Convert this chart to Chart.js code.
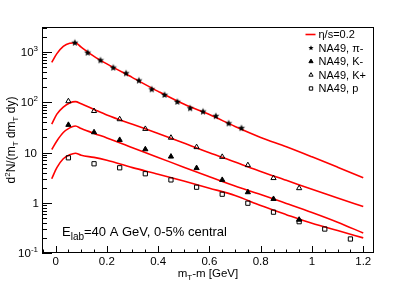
<!DOCTYPE html>
<html>
<head>
<meta charset="utf-8">
<title>NA49 spectra</title>
<style>
  html, body { margin: 0; padding: 0; background: #fff; }
</style>
</head>
<body>
<canvas id="chart" width="415" height="281"></canvas>
<script src="https://cdn.jsdelivr.net/npm/chart.js"></script>
<script>
// model curves (eta/s = 0.2)
const curveX = [-0.015, 0.005, 0.03, 0.055, 0.077, 0.1, 0.15, 0.2, 0.3, 0.4, 0.5, 0.6, 0.7, 0.8, 0.9, 1.0, 1.1, 1.2];
const piCurve = [624, 930, 1300, 1500, 1530, 1250, 820, 580, 310, 165, 92, 57, 33, 20, 13, 8.2, 5.1, 3.15];
const kplusCurve = [36.6, 58, 80, 97, 103, 93, 72, 56, 36.5, 24, 15.5, 9.9, 6.5, 4.2, 2.8, 1.85, 1.25, 0.84];
const kminusCurve = [11.5, 17, 25, 31, 33.8, 30, 24, 19.5, 12.4, 8.0, 5.1, 3.3, 2.15, 1.46, 0.97, 0.64, 0.41, 0.25];
const protonCurve = [3.0, 5.0, 7.5, 9.0, 9.7, 8.8, 8.0, 7.0, 5.0, 3.7, 2.7, 1.95, 1.4, 0.88, 0.58, 0.39, 0.28, 0.2];

// NA49 data
const piX = [0.075, 0.125, 0.175, 0.225, 0.275, 0.325, 0.375, 0.425, 0.475, 0.525, 0.575, 0.625, 0.675, 0.725];
const piY = [1530, 970, 683, 487, 377, 270, 181, 140, 102, 76, 65, 53, 38, 30.5];
const kaonX = [0.05, 0.15, 0.25, 0.35, 0.45, 0.55, 0.65, 0.75, 0.85, 0.95];
const kplusY = [105, 67, 46, 29.5, 19.7, 12.8, 8.2, 5.6, 3.1, 1.95];
const kminusY = [35.5, 25.3, 17.8, 11.6, 8.3, 4.9, 2.85, 1.62, 1.19, 0.46];
const protonX = [0.05, 0.15, 0.25, 0.35, 0.45, 0.55, 0.65, 0.75, 0.85, 0.95, 1.05, 1.15];
const protonY = [7.85, 5.97, 4.97, 3.78, 2.85, 2.04, 1.48, 0.98, 0.65, 0.42, 0.30, 0.19];

// axes
const xTicks = [0, 0.2, 0.4, 0.6, 0.8, 1, 1.2];
const xTickLabels = ['0', '0.2', '0.4', '0.6', '0.8', '1', '1.2'];
const yTicks = [0.1, 1, 10, 100, 1000];
const yTickLabels = [['10', '-1'], ['1', ''], ['10', ''], ['10', '2'], ['10', '3']];
const legendLabels = ['η/s=0.2', 'NA49, π-', 'NA49, K-', 'NA49, K+', 'NA49, p'];

const FONT = '"Liberation Sans", Arial, Helvetica, sans-serif';
Chart.defaults.font.family = FONT;

const pts = (xs, ys) => xs.map((x, i) => ({ x: x, y: ys[i] }));

function makeStar(r) {
  const c = document.createElement('canvas');
  const s = Math.ceil(r * 2) + 2;
  c.width = s; c.height = s;
  const g = c.getContext('2d');
  g.fillStyle = '#000';
  g.beginPath();
  for (let i = 0; i < 10; i++) {
    const rr = i % 2 ? r * 0.45 : r;
    const ang = -Math.PI / 2 + i * Math.PI / 5;
    g.lineTo(s / 2 + rr * Math.cos(ang), s / 2 + rr * Math.sin(ang));
  }
  g.closePath();
  g.fill();
  return c;
}
const starBig = makeStar(3.7);
const starSmall = makeStar(2.7);

// text with sub/superscripts: pieces = [text, kind]
function richWidth(ctx, pieces, size, small) {
  let w = 0;
  pieces.forEach(([t, k]) => {
    ctx.font = (k ? small : size) + 'px ' + FONT;
    w += ctx.measureText(t).width;
  });
  return w;
}
function drawRich(ctx, pieces, x, y, size, small, align) {
  const w = richWidth(ctx, pieces, size, small);
  let cx = align === 'center' ? x - w / 2 : align === 'right' ? x - w : x;
  ctx.textAlign = 'left';
  ctx.textBaseline = 'alphabetic';
  pieces.forEach(([t, k]) => {
    ctx.font = (k ? small : size) + 'px ' + FONT;
    const dy = k === 'sup' ? -size * 0.42 : k === 'sub' ? size * 0.28 : 0;
    ctx.fillText(t, cx, y + dy);
    cx += ctx.measureText(t).width;
  });
}

const frameAxes = {
  id: 'frameAxes',
  afterDatasetsDraw(chart) {
    const ctx = chart.ctx;
    const a = chart.chartArea;
    const xs = chart.scales.x, ys = chart.scales.y;
    ctx.save();
    ctx.strokeStyle = '#000';
    ctx.lineWidth = 1;
    ctx.strokeRect(a.left + 0.5, a.top + 0.5, a.right - a.left - 1, a.bottom - a.top - 1);

    // x ticks (inward)
    ctx.beginPath();
    for (let i = -1; i <= 25; i++) {
      const v = i * 0.05;
      if (v < xs.min || v > xs.max) continue;
      const px = Math.round(xs.getPixelForValue(v)) + 0.5;
      const len = i % 4 === 0 ? 7 : 3.5;
      ctx.moveTo(px, a.bottom);
      ctx.lineTo(px, a.bottom - len);
    }
    // y ticks (inward, log)
    for (let d = -1; d <= 3; d++) {
      for (let m = 1; m <= 9; m++) {
        const v = m * Math.pow(10, d);
        if (v < ys.min || v > ys.max) continue;
        const py = Math.round(ys.getPixelForValue(v)) + 0.5;
        const len = m === 1 ? 10 : 5;
        ctx.moveTo(a.left, py);
        ctx.lineTo(a.left + len, py);
      }
    }
    ctx.stroke();

    ctx.fillStyle = '#000';
    // x tick labels
    ctx.font = '11.5px ' + FONT;
    ctx.textAlign = 'center';
    ctx.textBaseline = 'alphabetic';
    xTicks.forEach((v, i) => {
      ctx.fillText(xTickLabels[i], xs.getPixelForValue(v), 265);
    });
    // y tick labels
    yTicks.forEach((v, i) => {
      const [base, exp] = yTickLabels[i];
      const py = ys.getPixelForValue(v) + 4;
      if (exp) drawRich(ctx, [[base, ''], [exp, 'sup']], 38, py, 11.5, 8, 'right');
      else drawRich(ctx, [[base, '']], base === '1' ? 39 : 37, py, 11.5, 8, 'right');
    });

    // axis titles
    drawRich(ctx, [['m', ''], ['T', 'sub'], ['-m [GeV]', '']], (a.left + a.right) / 2, 277, 11.5, 8, 'center');
    ctx.save();
    ctx.translate(15, (a.top + a.bottom) / 2);
    ctx.rotate(-Math.PI / 2);
    drawRich(ctx, [['d', ''], ['2', 'sup'], ['N/(m', ''], ['T', 'sub'], [' dm', ''], ['T', 'sub'], [' dy)', '']], 0, 0, 12, 8, 'center');
    ctx.restore();

    // annotation
    drawRich(ctx, [['E', ''], ['lab', 'sub'], ['=40 A GeV, 0-5% central', '']], 62, 236, 13, 10, 'left');

    // legend
    const rows = [34.5, 48, 61.5, 75, 88.5];
    const ds = chart.data.datasets;
    const legendSets = [0, 4, 5, 6, 7];
    legendSets.forEach((di, r) => {
      const d = ds[di];
      const y = rows[r];
      if (di === 0) {
        ctx.strokeStyle = d.borderColor;
        ctx.lineWidth = d.borderWidth;
        ctx.beginPath();
        ctx.moveTo(305.5, y);
        ctx.lineTo(315.5, y);
        ctx.stroke();
      } else {
        ctx.fillStyle = d.pointBackgroundColor;
        ctx.strokeStyle = d.pointBorderColor;
        ctx.lineWidth = 1;
        Chart.helpers.drawPoint(ctx, {
          pointStyle: d.pointStyle === starBig ? starSmall : d.pointStyle,
          radius: 2.4, rotation: 0, borderWidth: 1
        }, 311, y);
      }
      ctx.fillStyle = '#000';
      ctx.font = '11px ' + FONT;
      ctx.textAlign = 'left';
      ctx.textBaseline = 'middle';
      ctx.fillText(legendLabels[r], 318.5, y + 0.5);
    });
    ctx.restore();
  }
};

const curve = (xs, ys) => ({
  type: 'line',
  data: pts(xs, ys),
  borderColor: '#ff0000',
  borderWidth: 1.6,
  pointRadius: 0,
  showLine: true,
  fill: false,
  cubicInterpolationMode: 'monotone',
  order: 2
});

const markers = (xs, ys, style, fillCol, radius) => ({
  type: 'scatter',
  data: pts(xs, ys),
  pointStyle: style,
  pointRadius: radius,
  pointBackgroundColor: fillCol,
  pointBorderColor: '#000',
  pointBorderWidth: 1,
  showLine: false,
  order: 1
});

new Chart(document.getElementById('chart'), {
  type: 'scatter',
  data: {
    datasets: [
      curve(curveX, piCurve),
      curve(curveX, kplusCurve),
      curve(curveX, kminusCurve),
      curve(curveX, protonCurve),
      markers(piX, piY, starBig, '#000', 3.7),
      markers(kaonX, kminusY, 'triangle', '#000', 3.0),
      markers(kaonX, kplusY, 'triangle', 'rgba(0,0,0,0)', 3.0),
      markers(protonX, protonY, 'rect', 'rgba(0,0,0,0)', 3.0)
    ]
  },
  options: {
    responsive: false,
    animation: false,
    layout: { padding: { left: 42, right: 41, top: 27, bottom: 28 } },
    plugins: { legend: { display: false }, tooltip: { enabled: false } },
    scales: {
      x: { type: 'linear', min: -0.053, max: 1.242, display: false },
      y: { type: 'logarithmic', min: 0.1, max: 3150, display: false }
    }
  },
  plugins: [frameAxes]
});
</script>
</body>
</html>
